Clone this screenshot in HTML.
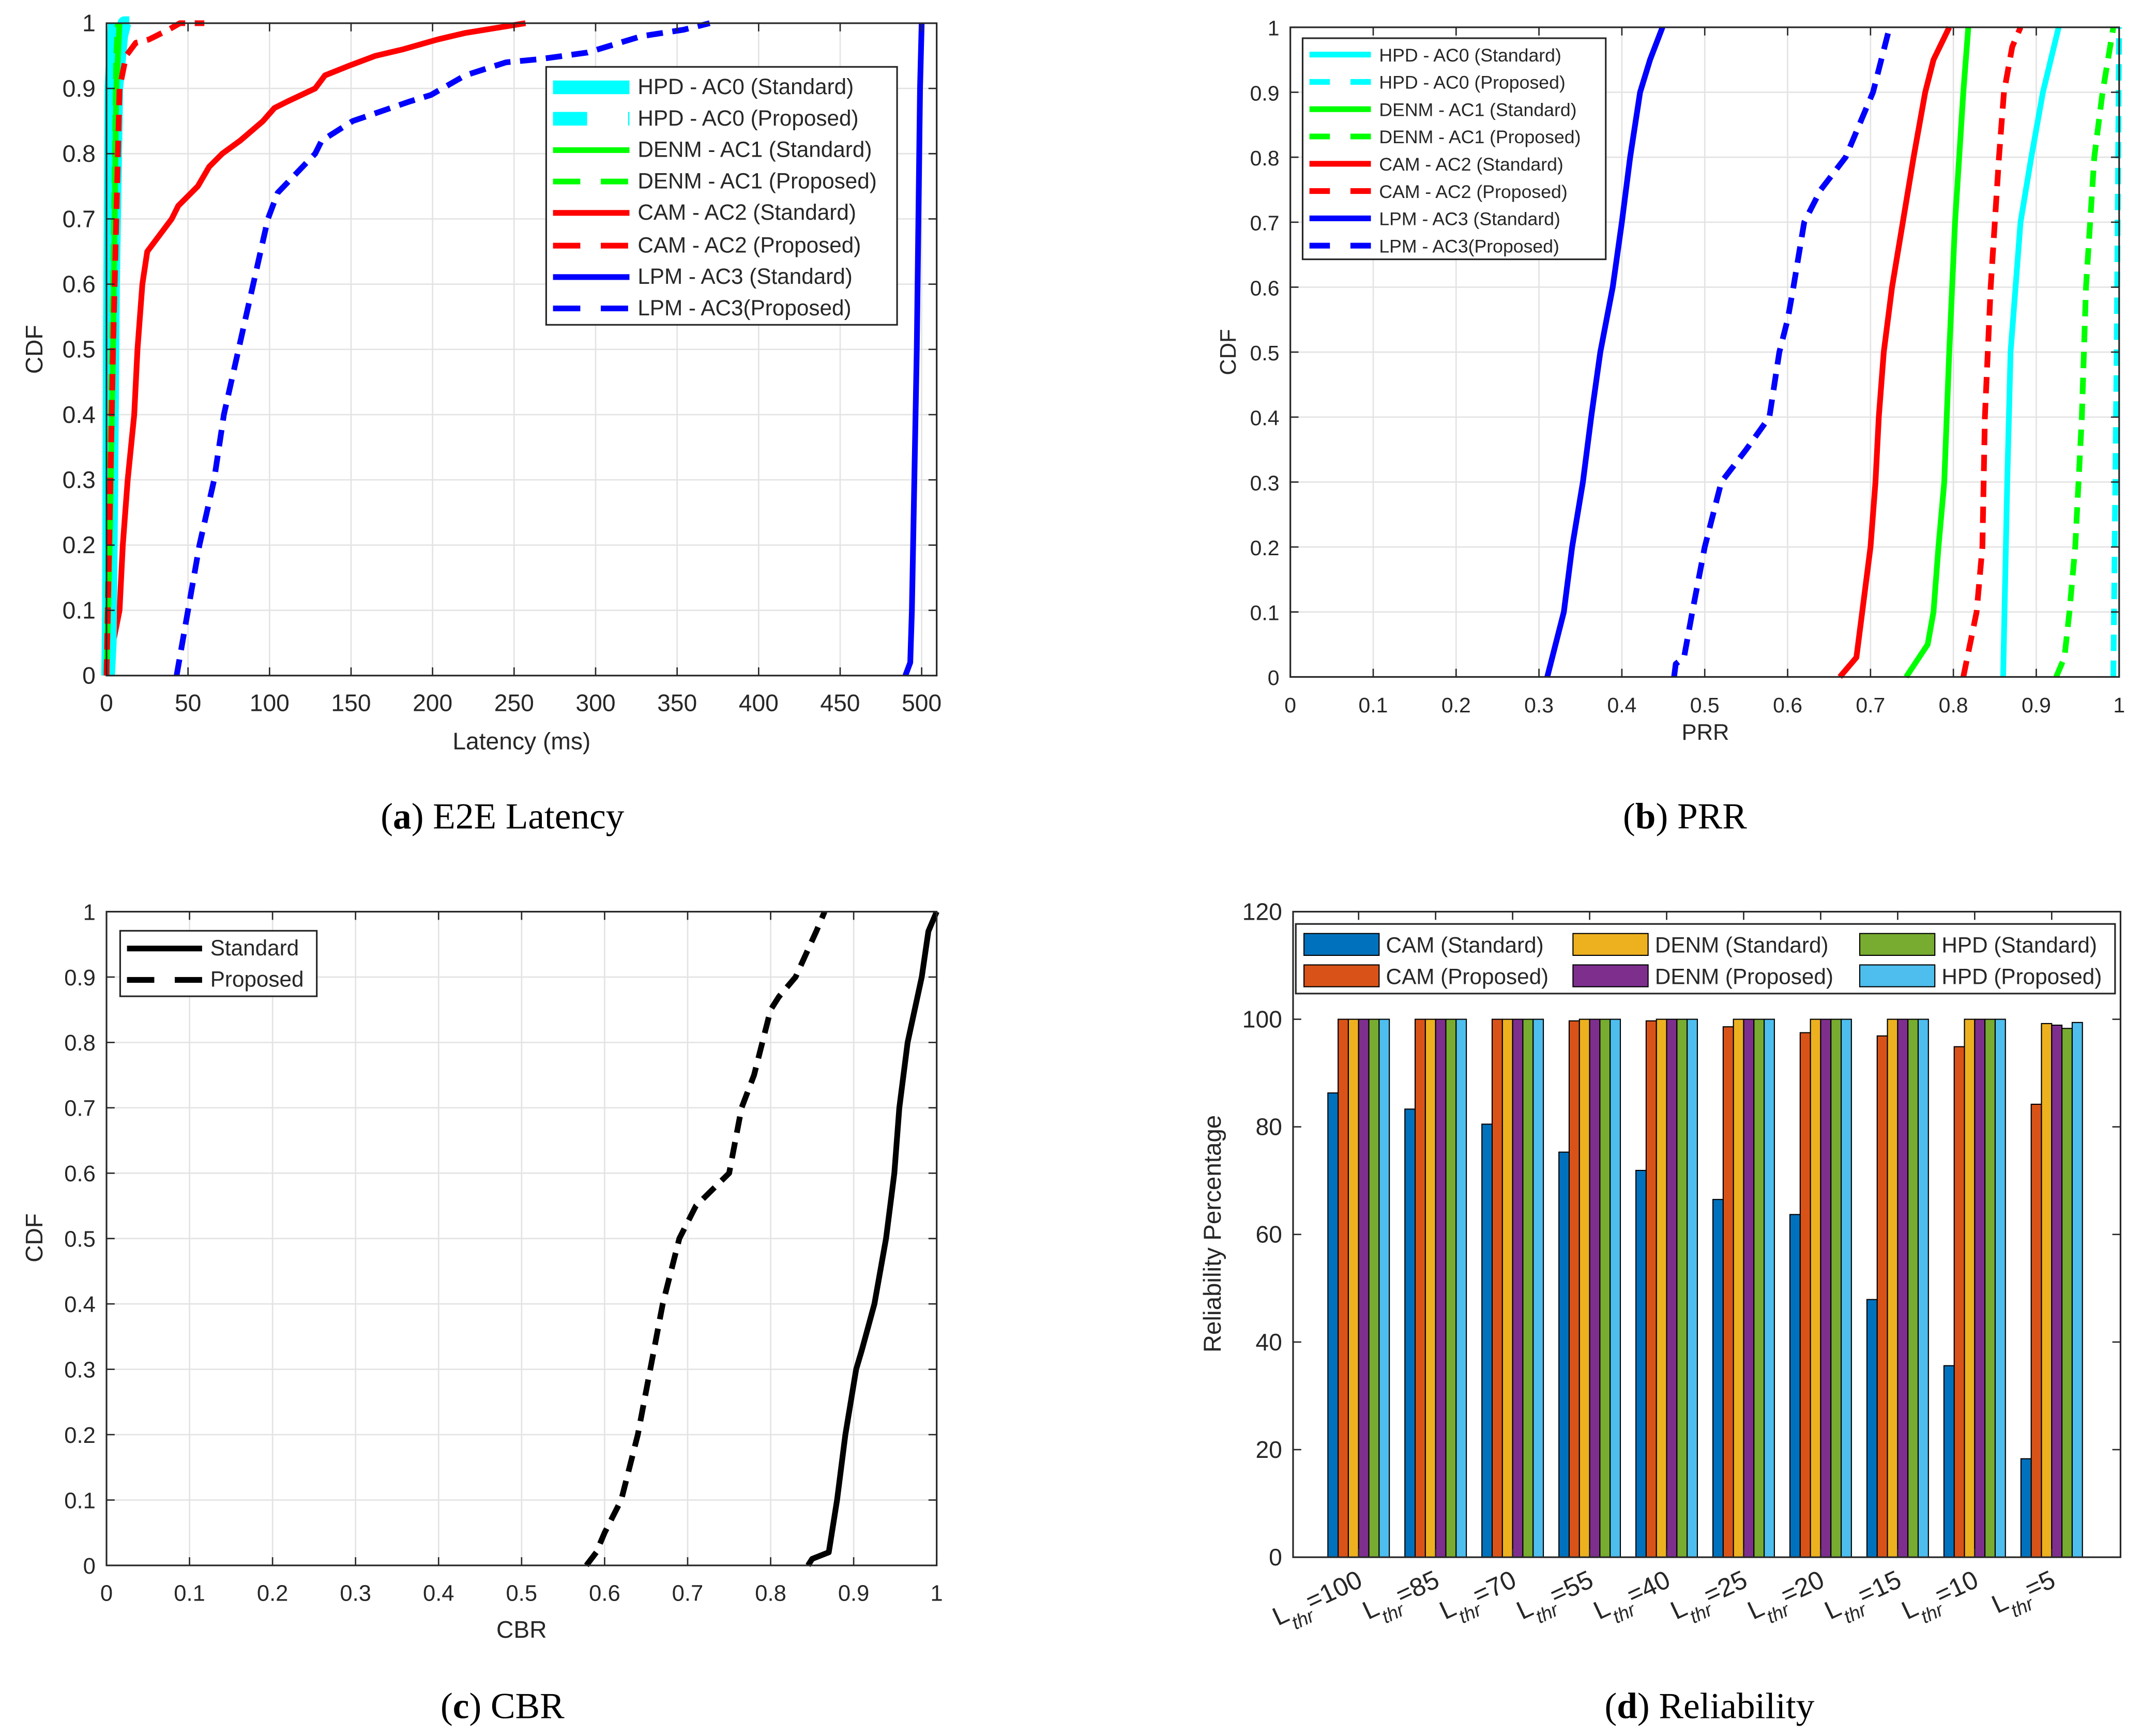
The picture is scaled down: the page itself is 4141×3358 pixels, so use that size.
<!DOCTYPE html>
<html><head><meta charset="utf-8"><style>
html,body{margin:0;padding:0;background:#fff}
svg{display:block}
text{font-family:"Liberation Sans",Arial,sans-serif;fill:#262626}
.cap{font-family:"Liberation Serif",serif;fill:#000}
</style></head><body>
<svg id="svg" xmlns="http://www.w3.org/2000/svg" width="4141" height="3358" viewBox="0 0 1568 1272" preserveAspectRatio="none">
<rect width="1568" height="1272" fill="#fff"/>
</svg>
<script>
// ---------- DATA ----------
const cdfTicks=[0,0.1,0.2,0.3,0.4,0.5,0.6,0.7,0.8,0.9,1];
const cdfTickLabels=['0','0.1','0.2','0.3','0.4','0.5','0.6','0.7','0.8','0.9','1'];
const latTicks=[0,50,100,150,200,250,300,350,400,450,500];
const frac10Ticks=[0,0.1,0.2,0.3,0.4,0.5,0.6,0.7,0.8,0.9,1];
const frac10Labels=['0','0.1','0.2','0.3','0.4','0.5','0.6','0.7','0.8','0.9','1'];
// Panel a (latency ms vs CDF): [x,cdf]
const latHpdStd=[[1,0],[2,0.05],[3,0.3],[4,0.6],[6,0.9],[9,0.98],[11,1],[14,1]];
const latHpdProp=[[1,0],[1.5,0.1],[2,0.5],[3,0.9],[5,1]];
const latDenmStd=[[0,0],[2,0.2],[4,0.5],[6,0.9],[8,1]];
const latDenmProp=[[0,0],[2,0.3],[4,0.6],[6,0.95],[7,1]];
const latCamStd=[[0,0],[4,0.05],[8,0.1],[10,0.2],[13,0.3],[17,0.4],[19,0.5],[22,0.6],[25,0.65],[31,0.67],[40,0.7],[44,0.72],[56,0.75],[63,0.78],[71,0.8],[82,0.82],[96,0.85],[103,0.87],[111,0.88],[128,0.9],[134,0.92],[149,0.935],[165,0.95],[182,0.96],[203,0.975],[220,0.985],[257,1]];
const latCamProp=[[0,0],[4,0.5],[8,0.9],[12,0.95],[18,0.97],[26,0.975],[38,0.99],[45,1],[60,1]];
const latLpmStd=[[490,0],[493,0.02],[494,0.1],[497,0.5],[499,0.9],[500,1]];
const latLpmProp=[[43,0],[50,0.1],[57,0.2],[66,0.3],[72,0.4],[81,0.5],[90,0.6],[99,0.7],[105,0.74],[128,0.8],[132,0.82],[151,0.85],[186,0.88],[199,0.89],[220,0.92],[245,0.94],[266,0.945],[295,0.955],[328,0.98],[354,0.99],[370,1]];
// Panel b (PRR vs CDF)
const prrLpmStd=[[0.31,0],[0.33,0.1],[0.34,0.2],[0.353,0.3],[0.363,0.4],[0.374,0.5],[0.389,0.6],[0.40,0.7],[0.41,0.8],[0.422,0.9],[0.434,0.95],[0.449,1]];
const prrLpmProp=[[0.463,0],[0.465,0.02],[0.475,0.03],[0.485,0.1],[0.50,0.2],[0.52,0.3],[0.55,0.35],[0.578,0.4],[0.59,0.5],[0.60,0.55],[0.607,0.6],[0.62,0.7],[0.64,0.75],[0.67,0.8],[0.703,0.9],[0.723,1]];
const prrCamStd=[[0.663,0],[0.683,0.03],[0.69,0.1],[0.70,0.2],[0.706,0.3],[0.71,0.4],[0.716,0.5],[0.726,0.6],[0.739,0.7],[0.752,0.8],[0.766,0.9],[0.776,0.95],[0.795,1]];
const prrDenmStd=[[0.743,0],[0.769,0.05],[0.776,0.1],[0.782,0.2],[0.789,0.3],[0.792,0.4],[0.795,0.5],[0.802,0.7],[0.812,0.9],[0.818,1]];
const prrCamProp=[[0.812,0],[0.828,0.1],[0.835,0.2],[0.838,0.4],[0.845,0.6],[0.855,0.8],[0.861,0.9],[0.871,0.97],[0.881,1]];
const prrHpdStd=[[0.86,0],[0.865,0.3],[0.869,0.5],[0.875,0.6],[0.881,0.7],[0.894,0.8],[0.908,0.9],[0.927,1]];
const prrDenmProp=[[0.924,0],[0.934,0.03],[0.94,0.1],[0.947,0.2],[0.955,0.4],[0.96,0.6],[0.97,0.8],[0.98,0.9],[0.993,1]];
const prrHpdProp=[[0.993,0],[0.997,0.5],[1.0,1]];
// Panel c (CBR vs CDF)
const cbrStd=[[0.845,0],[0.85,0.01],[0.87,0.02],[0.88,0.1],[0.89,0.2],[0.903,0.3],[0.91,0.33],[0.925,0.4],[0.939,0.5],[0.949,0.6],[0.955,0.7],[0.965,0.8],[0.982,0.9],[0.99,0.97],[1.0,1]];
const cbrProp=[[0.578,0],[0.59,0.02],[0.60,0.05],[0.62,0.1],[0.64,0.2],[0.655,0.3],[0.67,0.4],[0.69,0.5],[0.71,0.55],[0.75,0.6],[0.765,0.7],[0.78,0.75],[0.80,0.85],[0.81,0.87],[0.83,0.9],[0.855,0.97],[0.865,1]];
// Panel d (bars)
const relCategories=['100','85','70','55','40','25','20','15','10','5'];
const relCamStd=[86.3,83.3,80.5,75.3,71.9,66.5,63.7,47.9,35.6,18.3];
const relCamProp=[100,100,100,99.7,99.7,98.6,97.5,96.9,94.9,84.2];
const relDenmStd=[100,100,100,100,100,100,100,100,100,99.2];
const relDenmProp=[100,100,100,100,100,100,100,100,100,98.9];
const relHpdStd=[100,100,100,100,100,100,100,100,100,98.3];
const relHpdProp=[100,100,100,100,100,100,100,100,100,99.4];
const relTicks=[0,20,40,60,80,100,120];

// ---------- HELPERS ----------
const NS='http://www.w3.org/2000/svg';
const svg=document.getElementById('svg');
function mk(tag,attrs,parent){const e=document.createElementNS(NS,tag);for(const k in attrs)e.setAttribute(k,attrs[k]);(parent||svg).appendChild(e);return e;}
function txt(x,y,s,attrs,parent){const t=mk('text',Object.assign({x:x,y:y},attrs||{}),parent);t.textContent=s;return t;}
function lin(d0,d1,r0,r1){return v=>r0+(v-d0)/(d1-d0)*(r1-r0);}
const DASH='12 7';
const LW=4.2;

function axesBox(name,L,R,T,B,xs,xticks,xlabels,ys,yticks){
  const g=mk('g',{});
  
  
  xticks.forEach(v=>{const x=xs(v);mk('line',{x1:x,x2:x,y1:T,y2:B,stroke:'#e3e3e3','stroke-width':1},g);});
  yticks.forEach(v=>{const y=ys(v);mk('line',{x1:L,x2:R,y1:y,y2:y,stroke:'#e3e3e3','stroke-width':1},g);});
  return g;
}
function axesFrame(name,L,R,T,B,xs,xticks,xlabels,ys,yticks,ylabels,fs){
  const g=mk('g',{});
  
  
  mk('rect',{x:L,y:T,width:R-L,height:B-T,fill:'none',stroke:'#262626','stroke-width':1.2},g);
  xticks.forEach((v,i)=>{const x=xs(v);mk('line',{x1:x,x2:x,y1:B,y2:B-6,stroke:'#262626'},g);mk('line',{x1:x,x2:x,y1:T,y2:T+6,stroke:'#262626'},g);
    const t=txt(x,B+26,xlabels[i],{'font-size':fs,'text-anchor':'middle'},g);});
  yticks.forEach((v,i)=>{const y=ys(v);mk('line',{x1:L,x2:L+6,y1:y,y2:y,stroke:'#262626'},g);mk('line',{x1:R,x2:R-6,y1:y,y2:y,stroke:'#262626'},g);
    const t=txt(L-8,y+6,ylabels[i],{'font-size':fs,'text-anchor':'end'},g);});
}
function curve(name,pts,xs,ys,color,dashed,w,clip){
  const d=pts.map((p,i)=>(i?'L':'M')+xs(p[0]).toFixed(2)+','+ys(p[1]).toFixed(2)).join(' ');
  const a={d:d,fill:'none',stroke:color,'stroke-width':w||LW,'stroke-linejoin':'round'};
  if(dashed)a['stroke-dasharray']=DASH;
  if(clip)a['clip-path']=clip;
  const p=mk('path',a);
  
  
  return p;
}
function legend(name,x,y,w,h,entries,fs,lineLen){
  const g=mk('g',{});
  
  
  mk('rect',{x:x,y:y,width:w,height:h,fill:'#fff',stroke:'#262626','stroke-width':1.2},g);
  entries.forEach(e=>{
    const yy=y+e.dy;
    const a={x1:x+5,x2:x+5+lineLen,y1:yy,y2:yy,stroke:e.c,'stroke-width':e.w||LW};
    if(e.dash)a['stroke-dasharray']=e.dash;
    mk('line',a,g);
    const t=txt(x+11+lineLen,yy+5,e.t,{'font-size':fs},g);
    
    
  });
}
function ylabel(x,y,s,fs,name){const t=txt(x,y,s,{'font-size':fs,'text-anchor':'middle',transform:'rotate(-90 '+x+' '+y+')'});}
function xlabel(x,y,s,fs,name){const t=txt(x,y,s,{'font-size':fs,'text-anchor':'middle'});}
function caption(x,y,letter,rest,name){const t=mk('text',{x:x,y:y,'font-size':27,'text-anchor':'middle',class:'cap'});
  const a=mk('tspan',{},t);a.textContent='(';const b=mk('tspan',{'font-weight':'bold'},t);b.textContent=letter;const c=mk('tspan',{},t);c.textContent=') '+rest;}
function clipRect(id,L,T,R,B){const cp=mk('clipPath',{id:id});mk('rect',{x:L-6,y:T-8,width:R-L+12,height:B-T+16},cp);return 'url(#'+id+')';}

// ---------- PANEL A ----------
(function(){
  const L=78,R=686,T=17,B=495;
  const xs=lin(0,500,78,675), ys=lin(0,1,495,17);
  axesBox('latency',L,R,T,B,xs,latTicks,null,ys,cdfTicks);
  const cl=clipRect('ca',L,T,R,B);
  curve('lpm-ac3-proposed',latLpmProp,xs,ys,'#0000ff',true,LW,cl);
  curve('lpm-ac3-standard',latLpmStd,xs,ys,'#0000ff',false,LW,cl);
  curve('cam-ac2-standard',latCamStd,xs,ys,'#ff0000',false,LW,cl);
  curve('hpd-ac0-standard',latHpdStd,xs,ys,'#00ffff',false,10,cl);
  curve('hpd-ac0-proposed',latHpdProp,xs,ys,'#00ffff',false,10,cl);
  curve('denm-ac1-standard',latDenmStd,xs,ys,'#00ff00',false,LW,cl);
  curve('denm-ac1-proposed',latDenmProp,xs,ys,'#00ff00',true,LW,cl);
  curve('cam-ac2-proposed',latCamProp,xs,ys,'#ff0000',true,LW,cl);
  axesFrame('latency',L,R,T,B,xs,latTicks,latTicks.map(String),ys,cdfTicks,cdfTickLabels,17.5);
  legend('latency-legend',400,49,257,189,[
    {dy:15,t:'HPD - AC0 (Standard)',c:'#00ffff',w:10},
    {dy:38,t:'HPD - AC0 (Proposed)',c:'#00ffff',w:10,dash:'25 30'},
    {dy:61,t:'DENM - AC1 (Standard)',c:'#00ff00'},
    {dy:84,t:'DENM - AC1 (Proposed)',c:'#00ff00',dash:'20 15 20'},
    {dy:107,t:'CAM - AC2 (Standard)',c:'#ff0000'},
    {dy:131,t:'CAM - AC2 (Proposed)',c:'#ff0000',dash:'20 15 20'},
    {dy:154,t:'LPM - AC3 (Standard)',c:'#0000ff'},
    {dy:177,t:'LPM - AC3(Proposed)',c:'#0000ff',dash:'20 15 20'}],16,56);
  ylabel(31,256,'CDF',17.5,'y-axis-title-latency');
  xlabel(382,549,'Latency (ms)',17.5,'x-axis-title-latency');
  caption(368,607,'a','E2E Latency','caption-a');
})();

// ---------- PANEL B ----------
(function(){
  const L=945,R=1552,T=20,B=496;
  const xs=lin(0,1,945,1552), ys=lin(0,1,496,20);
  axesBox('prr',L,R,T,B,xs,frac10Ticks,null,ys,cdfTicks);
  const cl=clipRect('cb',L,T,R,B);
  curve('lpm-ac3-standard',prrLpmStd,xs,ys,'#0000ff',false,LW,cl);
  curve('lpm-ac3-proposed',prrLpmProp,xs,ys,'#0000ff',true,LW,cl);
  curve('cam-ac2-standard',prrCamStd,xs,ys,'#ff0000',false,LW,cl);
  curve('denm-ac1-standard',prrDenmStd,xs,ys,'#00ff00',false,LW,cl);
  curve('cam-ac2-proposed',prrCamProp,xs,ys,'#ff0000',true,LW,cl);
  curve('hpd-ac0-standard',prrHpdStd,xs,ys,'#00ffff',false,LW,cl);
  curve('denm-ac1-proposed',prrDenmProp,xs,ys,'#00ff00',true,LW,cl);
  curve('hpd-ac0-proposed',prrHpdProp,xs,ys,'#00ffff',true,LW,cl);
  axesFrame('prr',L,R,T,B,xs,frac10Ticks,frac10Labels,ys,cdfTicks,cdfTickLabels,15.5);
  legend('prr-legend',954,28,222,162,[
    {dy:12,t:'HPD - AC0 (Standard)',c:'#00ffff'},
    {dy:32,t:'HPD - AC0 (Proposed)',c:'#00ffff',dash:'15 15 15'},
    {dy:52,t:'DENM - AC1 (Standard)',c:'#00ff00'},
    {dy:72,t:'DENM - AC1 (Proposed)',c:'#00ff00',dash:'15 15 15'},
    {dy:92,t:'CAM - AC2 (Standard)',c:'#ff0000'},
    {dy:112,t:'CAM - AC2 (Proposed)',c:'#ff0000',dash:'15 15 15'},
    {dy:132,t:'LPM - AC3 (Standard)',c:'#0000ff'},
    {dy:152,t:'LPM - AC3(Proposed)',c:'#0000ff',dash:'15 15 15'}],13.5,45);
  ylabel(905,258,'CDF',16.5,'y-axis-title-prr');
  xlabel(1249,542,'PRR',16.5,'x-axis-title-prr');
  caption(1234,607,'b','PRR','caption-b');
})();

// ---------- PANEL C ----------
(function(){
  const L=78,R=686,T=668,B=1147;
  const xs=lin(0,1,78,686), ys=lin(0,1,1147,668);
  axesBox('cbr',L,R,T,B,xs,frac10Ticks,null,ys,cdfTicks);
  const cl=clipRect('cc',L,T,R,B);
  curve('cbr-standard',cbrStd,xs,ys,'#000',false,LW,cl);
  curve('cbr-proposed',cbrProp,xs,ys,'#000',true,LW,cl);
  axesFrame('cbr',L,R,T,B,xs,frac10Ticks,frac10Labels,ys,cdfTicks,cdfTickLabels,16.5);
  legend('cbr-legend',88,682,144,48,[
    {dy:13,t:'Standard',c:'#000'},
    {dy:36,t:'Proposed',c:'#000',dash:'20 15 20'}],16,55);
  ylabel(31,907,'CDF',17.5,'y-axis-title-cbr');
  xlabel(382,1200,'CBR',17.5,'x-axis-title-cbr');
  caption(368,1259,'c','CBR','caption-c');
})();

// ---------- PANEL D ----------
(function(){
  const L=947,R=1553,T=668,B=1141;
  const ys=lin(0,120,1141,668);
  const cx=i=>995+56.4*i;
  const bw=7.5;
  const series=[[relCamStd,'#0072bd','cam-standard'],[relCamProp,'#d95319','cam-proposed'],[relDenmStd,'#edb120','denm-standard'],[relDenmProp,'#7e2f8e','denm-proposed'],[relHpdStd,'#77ac30','hpd-standard'],[relHpdProp,'#4dbeee','hpd-proposed']];
  relCategories.forEach((c,i)=>{
    series.forEach((s,j)=>{
      const x=cx(i)-3*bw+j*bw, v=s[0][i];
      const r=mk('rect',{x:x,y:ys(v),width:bw,height:ys(0)-ys(v),fill:s[1],stroke:'#000','stroke-width':0.8});
      
      
    });
  });
  mk('rect',{x:L,y:T,width:R-L,height:B-T,fill:'none',stroke:'#262626','stroke-width':1.2});
  relTicks.forEach(v=>{const y=ys(v);mk('line',{x1:L,x2:L+6,y1:y,y2:y,stroke:'#262626'});mk('line',{x1:R,x2:R-6,y1:y,y2:y,stroke:'#262626'});
    const t=txt(L-8,y+6,String(v),{'font-size':17.5,'text-anchor':'end'});});
  relCategories.forEach((c,i)=>{
    const x=cx(i);
    mk('line',{x1:x,x2:x,y1:B,y2:B-6,stroke:'#262626'});mk('line',{x1:x,x2:x,y1:T,y2:T+6,stroke:'#262626'});
    const ax=x+4, ay=1162;
    const t=mk('text',{x:ax,y:ay,'font-size':19,'text-anchor':'end',transform:'rotate(-25 '+ax+' '+ay+')'});
    
    
    const a=mk('tspan',{},t);a.textContent='L';
    const b=mk('tspan',{dy:8,'font-size':14,'font-style':'italic'},t);b.textContent='thr';
    const d=mk('tspan',{dy:-8},t);d.textContent='='+c;
  });
  const lg=mk('g',{});
  
  
  mk('rect',{x:949,y:677,width:600,height:51,fill:'#fff',stroke:'#262626','stroke-width':1.2},lg);
  const cols=[955,1152,1362], rows=[692,715];
  const order=[[0,0,0],[0,1,1],[1,0,2],[1,1,3],[2,0,4],[2,1,5]];
  const names=['CAM (Standard)','CAM (Proposed)','DENM (Standard)','DENM (Proposed)','HPD (Standard)','HPD (Proposed)'];
  order.forEach(o=>{
    const x=cols[o[0]], y=rows[o[1]];
    mk('rect',{x:x,y:y-8,width:55,height:16,fill:series[o[2]][1],stroke:'#000','stroke-width':0.8},lg);
    const t=txt(x+60,y+6,names[o[2]],{'font-size':16},lg);
    
    
  });
  ylabel(894,904,'Reliability Percentage',18,'y-axis-title-reliability');
  caption(1252,1259,'d','Reliability','caption-d');
})();
</script>
</body></html>
